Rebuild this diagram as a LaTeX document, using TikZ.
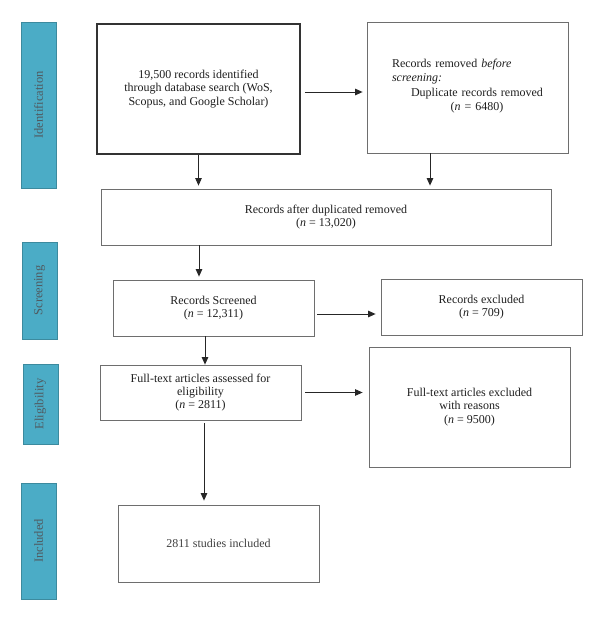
\documentclass[tikz,border=0pt]{standalone}
\usepackage{fontspec}
\setmainfont{Liberation Serif}
\usetikzlibrary{arrows.meta}
\definecolor{boxgray}{HTML}{6E6E6E}
\definecolor{barcol}{HTML}{4BACC6}
\definecolor{bartxt}{HTML}{505A60}
\begin{document}
\begin{tikzpicture}[x=1pt,y=-1pt,
  box/.style={draw=boxgray, line width=0.8pt, inner sep=0pt, align=center,
    font=\fontsize{12}{13.3}\selectfont, text=black!88},
  bar/.style={fill=barcol, draw=barcol!80!black, line width=0.4pt, inner sep=0pt},
  bartext/.style={rotate=90, font=\fontsize{12.5}{14}\selectfont, text=bartxt},
  arr/.style={-{Triangle[length=7.5pt,width=6.5pt]}, line width=0.9pt, draw=black!85}]
\useasboundingbox (0,0) rectangle (600,621);
\fill[white] (0,0) rectangle (600,621);

% phase bars
\node[bar, minimum width=35, minimum height=166] (bi) at (38.5,105) {};
\node[bartext] (ti) at (bi.center) {Identification};
\node[bar, minimum width=35, minimum height=97] (bs) at (39.5,290.5) {};
\node[bartext] (ts) at (bs.center) {Screening};
\node[bar, minimum width=35, minimum height=80] (be) at (40.5,404) {};
\node[bartext] (te) at (be.center) {Eligibility};
\node[bar, minimum width=35, minimum height=116] (bn) at (38.5,541) {};
\node[bartext] (tn) at (bn.center) {Included};

% boxes
\node[box, draw=black!80, line width=1.5pt, minimum width=203, minimum height=130] (b1) at (198.5,89)
  {19,500 records identified\\through database search (WoS,\\Scopus, and Google Scholar)};
\node[box, minimum width=201, minimum height=131] (b2) at (467.5,87.5) {};
\node[font=\fontsize{12}{14.6}\selectfont, text=black!88, text width=170pt, inner sep=0pt] (t2) at (477,86)
  {{\raggedright Records removed \textit{before}\\\textit{screening:}\par}%
   {\centering Duplicate records removed\\(\textit{n} = 6480)\par}};
\node[box, minimum width=450, minimum height=56] (b3) at (326,217)
  {Records after duplicated removed\\(\textit{n} = 13,020)};
\node[box, minimum width=201, minimum height=56] (b4) at (213.5,308)
  {Records Screened\\(\textit{n} = 12,311)};
\node[box, minimum width=201, minimum height=56] (b5) at (481.5,307)
  {Records excluded\\(\textit{n} = 709)};
\node[box, minimum width=201, minimum height=55] (b6) at (200.5,392.5)
  {Full-text articles assessed for\\eligibility\\(\textit{n} = 2811)};
\node[box, minimum width=201, minimum height=120] (b7) at (469.5,407)
  {Full-text articles excluded\\with reasons\\(\textit{n} = 9500)};
\node[box, text=black!75, minimum width=201, minimum height=77] (b8) at (218.5,543.5)
  {2811 studies included};

% connectors
\draw[arr] ([xshift=4pt,yshift=-3pt]b1.east) -- ([xshift=-4pt,yshift=-3pt]b1.east -| b2.west);
\draw[arr, shorten >=3pt] (b1.south) -- (b1.south |- b3.north);
\draw[arr, shorten >=3pt] ([xshift=-37.5pt]b2.south) -- ([xshift=-37.5pt]b2.south |- b3.north);
\draw[arr, shorten >=3pt] ([xshift=-14.5pt]b4.north |- b3.south) -- ([xshift=-14.5pt]b4.north);
\draw[arr] ([xshift=3pt,yshift=-6pt]b4.east) -- ([xshift=-5pt,yshift=-6pt]b4.east -| b5.west);
\draw[arr] ([xshift=4.5pt]b6.north |- b4.south) -- ([xshift=4.5pt]b6.north);
\draw[arr] ([xshift=4pt]b6.east) -- ([xshift=-6pt]b6.east -| b7.west);
\draw[arr] ([xshift=-14.5pt,yshift=-3pt]b8.north |- b6.south) -- ([xshift=-14.5pt,yshift=4pt]b8.north);
\end{tikzpicture}
\end{document}
